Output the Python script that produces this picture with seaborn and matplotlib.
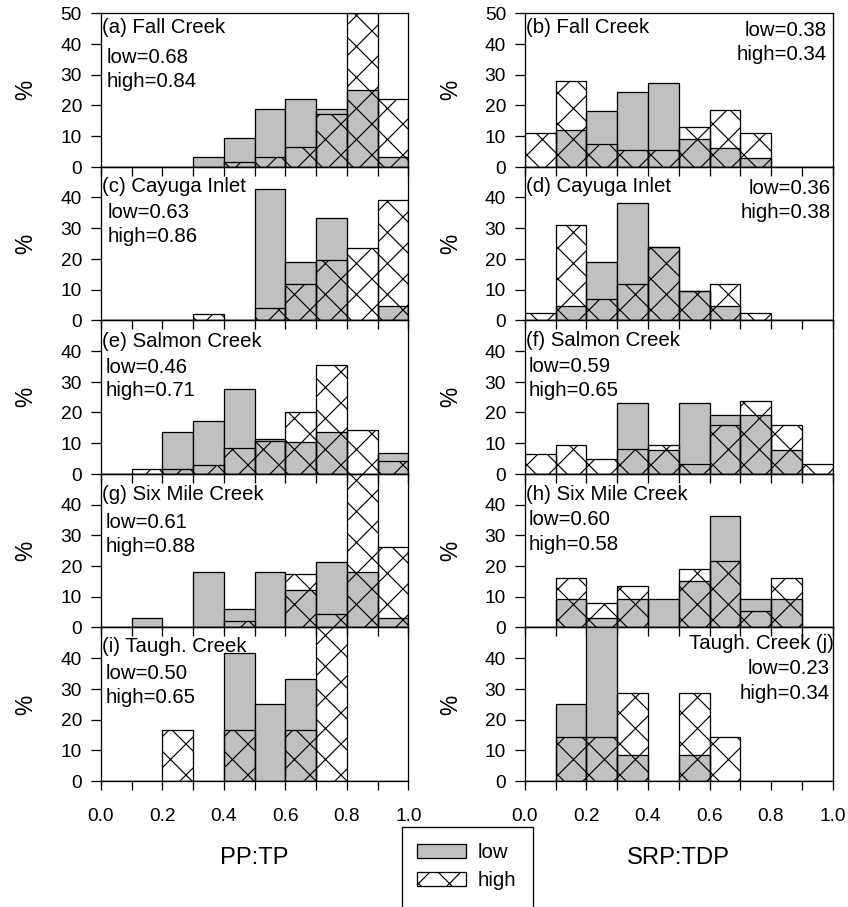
import numpy as np
import pandas as pd
import matplotlib
matplotlib.use("Agg")
import matplotlib.pyplot as plt
from matplotlib.patches import Patch, Rectangle
import seaborn as sns

# ---- data: percent of samples per 0.1-wide bin (0.0-0.1 ... 0.9-1.0) ----
bin_edges = [0.0, 0.1, 0.2, 0.3, 0.4, 0.5, 0.6, 0.7, 0.8, 0.9, 1.0]
bin_centers = [0.05, 0.15, 0.25, 0.35, 0.45, 0.55, 0.65, 0.75, 0.85, 0.95]

# PP:TP
fall_pp_low = [0, 0, 0, 3.1, 9.4, 18.8, 21.9, 18.8, 25.0, 3.1]
fall_pp_high = [0, 0, 0, 0, 1.6, 3.1, 6.3, 17.2, 50.0, 21.9]
cayuga_pp_low = [0, 0, 0, 0, 0, 42.9, 19.0, 33.3, 0, 4.8]
cayuga_pp_high = [0, 0, 0, 2.0, 0, 3.9, 11.8, 19.6, 23.5, 39.2]
salmon_pp_low = [0, 0, 13.7, 17.2, 27.5, 11.4, 10.4, 13.7, 0, 6.9]
salmon_pp_high = [0, 1.5, 1.5, 2.9, 8.5, 10.8, 20.0, 35.6, 14.2, 4.3]
sixmile_pp_low = [0, 3.0, 0, 18.2, 6.1, 18.2, 12.1, 21.2, 18.2, 3.0]
sixmile_pp_high = [0, 0, 0, 0, 2.2, 0, 17.4, 4.3, 50.0, 26.1]
taugh_pp_low = [0, 0, 0, 0, 41.7, 25.0, 33.3, 0, 0, 0]
taugh_pp_high = [0, 0, 16.7, 0, 16.7, 0, 16.7, 50.0, 0, 0]

# SRP:TDP
fall_srp_low = [0, 12.1, 18.2, 24.2, 27.3, 9.1, 6.1, 3.0, 0, 0]
fall_srp_high = [11.1, 27.8, 7.4, 5.6, 5.6, 13.0, 18.5, 11.1, 0, 0]
cayuga_srp_low = [0, 4.8, 19.0, 38.1, 23.8, 9.5, 4.8, 0, 0, 0]
cayuga_srp_high = [2.4, 31.0, 7.1, 11.9, 23.8, 9.5, 11.9, 2.4, 0, 0]
salmon_srp_low = [0, 0, 0, 23.1, 7.7, 23.1, 19.2, 19.2, 7.7, 0]
salmon_srp_high = [6.4, 9.5, 4.7, 8.0, 9.5, 3.2, 16.0, 23.7, 16.0, 3.2]
sixmile_srp_low = [0, 9.1, 3.0, 9.1, 9.1, 15.2, 36.4, 9.1, 9.1, 0]
sixmile_srp_high = [0, 16.2, 8.1, 13.5, 0, 18.9, 21.6, 5.4, 16.2, 0]
taugh_srp_low = [0, 25.0, 58.3, 8.3, 0, 8.3, 0, 0, 0, 0]
taugh_srp_high = [0, 14.3, 14.3, 28.6, 0, 28.6, 14.3, 0, 0, 0]

# mean ratios quoted in each panel
pp_low_means = ["0.68", "0.63", "0.46", "0.61", "0.50"]
pp_high_means = ["0.84", "0.86", "0.71", "0.88", "0.65"]
srp_low_means = ["0.38", "0.36", "0.59", "0.60", "0.23"]
srp_high_means = ["0.34", "0.38", "0.65", "0.58", "0.34"]

site_names = ["Fall Creek", "Cayuga Inlet", "Salmon Creek", "Six Mile Creek", "Taugh. Creek"]
pp_letters = ["a", "c", "e", "g", "i"]
srp_letters = ["b", "d", "f", "h", "j"]
x_ticks = [0.0, 0.1, 0.2, 0.3, 0.4, 0.5, 0.6, 0.7, 0.8, 0.9, 1.0]
x_ticklabels = ["0.0", "", "0.2", "", "0.4", "", "0.6", "", "0.8", "", "1.0"]
xlabels = ["PP:TP", "SRP:TDP"]

pp_low = [fall_pp_low, cayuga_pp_low, salmon_pp_low, sixmile_pp_low, taugh_pp_low]
pp_high = [fall_pp_high, cayuga_pp_high, salmon_pp_high, sixmile_pp_high, taugh_pp_high]
srp_low = [fall_srp_low, cayuga_srp_low, salmon_srp_low, sixmile_srp_low, taugh_srp_low]
srp_high = [fall_srp_high, cayuga_srp_high, salmon_srp_high, sixmile_srp_high, taugh_srp_high]

# ---- style ----
sns.set_style("ticks")
plt.rcParams["font.family"] = ["Liberation Sans", "DejaVu Sans"]
plt.rcParams["hatch.linewidth"] = 0.45
plt.rcParams["axes.linewidth"] = 0.5
plt.rcParams["text.color"] = "black"
plt.rcParams["axes.labelcolor"] = "black"
plt.rcParams["xtick.color"] = "black"
plt.rcParams["ytick.color"] = "black"

GRAY = "#c0c0c0"
HATCH = "xx"
EDGE_LW = 0.5
FS_TICK = 7.4
FS_TEXT = 7.9
FS_LABEL = 8.8
FS_AXLABEL = 9.2
FS_LEGEND = 7.9

W, H, DPI = 848, 907, 186
fig = plt.figure(figsize=(848.3 / DPI, 907.3 / DPI), dpi=DPI)

# axes geometry in pixels
col_x0 = [100.7, 524.7]
ax_w = 307.6
top0 = 13.5
row_h = 153.5

# text placement inside panels (pixels from the panel's top edge / side edge)
# (title baseline, low baseline, high baseline, stats x offset, stats on right?, title on right?)
text_layout = {
    "a": (19.2, 49.8, 73.8, 6.0, False, False),
    "c": (24.7, 51.3, 74.7, 6.6, False, False),
    "e": (26.7, 52.3, 75.7, 5.3, False, False),
    "g": (26.3, 53.6, 78.0, 5.3, False, False),
    "i": (24.2, 50.8, 75.2, 5.3, False, False),
    "b": (19.2, 22.5, 46.5, 5.6, True, False),
    "d": (24.7, 27.3, 51.3, 2.3, True, False),
    "f": (25.0, 51.0, 75.0, 3.3, False, False),
    "h": (26.3, 51.3, 76.3, 3.3, False, False),
    "j": (20.8, 46.5, 70.8, 3.3, True, True),
}


def draw_panel(ax, low, high, letter, site, low_mean, high_mean, row):
    df = pd.DataFrame({"ratio": bin_centers, "low": low, "high": high})
    # low-flow distribution: grey filled bars
    sns.histplot(data=df[df["low"] > 0], x="ratio", weights="low", bins=bin_edges,
                 ax=ax, stat="count", color=GRAY, edgecolor="black",
                 linewidth=EDGE_LW, alpha=1.0)
    # high-flow distribution: open cross-hatched bars on top
    sns.histplot(data=df[df["high"] > 0], x="ratio", weights="high", bins=bin_edges,
                 ax=ax, stat="count", fill=False, color="black",
                 linewidth=EDGE_LW, hatch=HATCH)
    ax.set_xlim(0, 1)
    ax.set_ylim(0, 50)
    ax.set_facecolor("none")
    for sp in ax.spines.values():
        sp.set_visible(True)
        sp.set_linewidth(0.5)
        sp.set_color("black")
    ax.set_yticks([0, 10, 20, 30, 40, 50] if row == 0 else [0, 10, 20, 30, 40])
    ax.set_xticks(x_ticks)
    if row == 4:
        ax.set_xticklabels(x_ticklabels)
    else:
        ax.set_xticklabels([""] * len(x_ticks))
    ax.tick_params(axis="y", direction="out", length=3.9, width=0.5, pad=3.4,
                   labelsize=FS_TICK, colors="black")
    ax.tick_params(axis="x", direction="out", length=3.5, width=0.5, pad=7.0,
                   labelsize=FS_TICK, colors="black")
    ax.set_xlabel("")
    ax.set_ylabel("%", fontsize=FS_LABEL, color="black")
    ax.yaxis.set_label_coords(-0.205, 0.5)

    t_base, l_base, h_base, sx, stats_right, title_right = text_layout[letter]
    fy = lambda d: 1 - d / row_h
    fx = lambda d: d / ax_w
    if title_right:
        ax.text(1 + fx(1.7), fy(t_base), f"{site} ({letter})", transform=ax.transAxes,
                ha="right", va="baseline", fontsize=FS_TEXT, clip_on=False)
    else:
        ax.text(fx(1.0), fy(t_base), f"({letter}) {site}", transform=ax.transAxes,
                ha="left", va="baseline", fontsize=FS_TEXT)
    if stats_right:
        xs, ha = 1 - fx(sx), "right"
    else:
        xs, ha = fx(sx), "left"
    ax.text(xs, fy(l_base), f"low={low_mean}", transform=ax.transAxes,
            ha=ha, va="baseline", fontsize=FS_TEXT)
    ax.text(xs, fy(h_base), f"high={high_mean}", transform=ax.transAxes,
            ha=ha, va="baseline", fontsize=FS_TEXT)


for col, (lows, highs, letters, lmeans, hmeans) in enumerate([
        (pp_low, pp_high, pp_letters, pp_low_means, pp_high_means),
        (srp_low, srp_high, srp_letters, srp_low_means, srp_high_means)]):
    for row in range(5):
        y_top = top0 + row * row_h
        rect = [col_x0[col] / W, 1 - (y_top + row_h) / H, ax_w / W, row_h / H]
        ax = fig.add_axes(rect)
        draw_panel(ax, lows[row], highs[row], letters[row], site_names[row],
                   lmeans[row], hmeans[row], row)
    fig.text((col_x0[col] + ax_w / 2) / W, 1 - 858 / H, xlabels[col],
             ha="center", va="center", fontsize=FS_AXLABEL)

# legend with an open-bottomed frame
handles = [Patch(facecolor=GRAY, edgecolor="black", linewidth=EDGE_LW, label="low"),
           Patch(facecolor="white", edgecolor="black", linewidth=EDGE_LW, hatch=HATCH,
                 label="high")]
fig.legend(handles=handles, loc="upper left", bbox_to_anchor=(417 / W, 1 - 843 / H),
           frameon=False, fontsize=FS_LEGEND, handlelength=2.39, handleheight=0.73,
           handletextpad=0.59, labelspacing=0.45, borderpad=0, borderaxespad=0)
fig.patches.append(Rectangle((402 / W, -0.05), 131 / W, 0.05 + 1 - 827 / H,
                             transform=fig.transFigure, fill=False,
                             edgecolor="black", linewidth=0.5))

fig.savefig("out.png", dpi=DPI)
